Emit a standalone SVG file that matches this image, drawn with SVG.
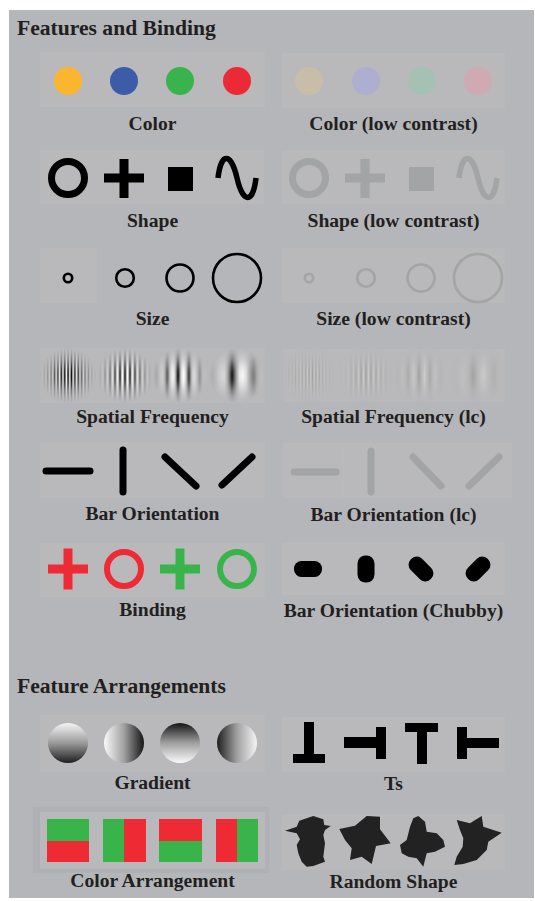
<svg xmlns="http://www.w3.org/2000/svg" xmlns:xlink="http://www.w3.org/1999/xlink" width="535" height="901" viewBox="0 0 535 901">
  <style>
    .title { font-family: "Liberation Serif", "Times New Roman", serif; font-weight: bold; font-size: 21.6px; fill: #231f20; }
    .label { font-family: "Liberation Serif", "Times New Roman", serif; font-weight: bold; font-size: 19.6px; fill: #231f20; text-anchor: middle; }
    .tile { fill: #b9b8ba; }
    .hi { color: #000; }
    .lo { color: #a3a4a6; }
    .bar { stroke: currentColor; stroke-width: 7; stroke-linecap: round; fill: none; }
    .red { fill: #ee2a34; }
    .green { fill: #38b44a; }
    .blob { fill: #222; }
  </style>
  <defs>
    <!-- shape set (drawn with currentColor so it can be reused at two contrasts) -->
    <g id="shapeSet">
      <circle cx="68" cy="178" r="16.5" fill="none" stroke="currentColor" stroke-width="7"/>
      <rect x="104" y="173.5" width="40" height="9" fill="currentColor"/>
      <rect x="119.5" y="159" width="9" height="39" fill="currentColor"/>
      <rect x="168" y="167" width="25" height="24" fill="currentColor"/>
      <path d="M218,178 C221,152 231,152 237,178 C243,204 253,204 256,178" fill="none" stroke="currentColor" stroke-width="5.5"/>
    </g>
    <g id="sizeSet" fill="none" stroke="currentColor" stroke-width="2.6">
      <circle cx="68" cy="278" r="4.2"/>
      <circle cx="125" cy="278" r="8.8"/>
      <circle cx="180" cy="278" r="13.5"/>
      <circle cx="237" cy="278" r="24"/>
    </g>
    <g id="barSet" class="bar">
      <line x1="46" y1="471" x2="90" y2="471"/>
      <line x1="123" y1="450" x2="123" y2="492"/>
      <line x1="165" y1="457" x2="196" y2="486"/>
      <line x1="222" y1="485" x2="252" y2="457"/>
    </g>

    <!-- Gaussian envelope for the Gabor patches -->
    <radialGradient id="env" cx="0.5" cy="0.5" r="0.5">
      <stop offset="0" stop-color="#fff"/>
      <stop offset="0.2" stop-color="#e0e0e0"/>
      <stop offset="0.4" stop-color="#9c9c9c"/>
      <stop offset="0.6" stop-color="#525252"/>
      <stop offset="0.8" stop-color="#222"/>
      <stop offset="1" stop-color="#000"/>
    </radialGradient>
    <mask id="m1" maskContentUnits="userSpaceOnUse"><rect x="40" y="348" width="56" height="55" fill="url(#env)"/></mask>
    <mask id="m2" maskContentUnits="userSpaceOnUse"><rect x="97" y="348" width="56" height="55" fill="url(#env)"/></mask>
    <mask id="m3" maskContentUnits="userSpaceOnUse"><rect x="152" y="348" width="56" height="55" fill="url(#env)"/></mask>
    <mask id="m4" maskContentUnits="userSpaceOnUse"><rect x="209" y="348" width="56" height="55" fill="url(#env)"/></mask>

    <!-- sinusoidal stripe gratings, high contrast -->
    <linearGradient id="g1" gradientUnits="userSpaceOnUse" x1="66.4" y1="0" x2="69.8" y2="0" spreadMethod="repeat">
      <stop offset="0" stop-color="#fff"/><stop offset="0.5" stop-color="#000"/><stop offset="1" stop-color="#fff"/>
    </linearGradient>
    <linearGradient id="g2" gradientUnits="userSpaceOnUse" x1="122.5" y1="0" x2="127.5" y2="0" spreadMethod="repeat">
      <stop offset="0" stop-color="#fff"/><stop offset="0.25" stop-color="#b0b0b0"/><stop offset="0.5" stop-color="#000"/><stop offset="0.75" stop-color="#b0b0b0"/><stop offset="1" stop-color="#fff"/>
    </linearGradient>
    <linearGradient id="g3" gradientUnits="userSpaceOnUse" x1="172.5" y1="0" x2="183.5" y2="0" spreadMethod="repeat">
      <stop offset="0" stop-color="#fff"/><stop offset="0.15" stop-color="#eee"/><stop offset="0.3" stop-color="#a0a0a0"/><stop offset="0.5" stop-color="#000"/><stop offset="0.7" stop-color="#a0a0a0"/><stop offset="0.85" stop-color="#eee"/><stop offset="1" stop-color="#fff"/>
    </linearGradient>
    <linearGradient id="g4" gradientUnits="userSpaceOnUse" x1="221" y1="0" x2="243" y2="0" spreadMethod="repeat">
      <stop offset="0" stop-color="#fff"/><stop offset="0.15" stop-color="#eee"/><stop offset="0.3" stop-color="#a0a0a0"/><stop offset="0.5" stop-color="#000"/><stop offset="0.7" stop-color="#a0a0a0"/><stop offset="0.85" stop-color="#eee"/><stop offset="1" stop-color="#fff"/>
    </linearGradient>
    <!-- low contrast gratings -->
    <linearGradient id="l1" href="#g1" xlink:href="#g1">
      <stop offset="0" stop-color="#cbcbcb"/><stop offset="0.5" stop-color="#a0a0a0"/><stop offset="1" stop-color="#cbcbcb"/>
    </linearGradient>
    <linearGradient id="l2" href="#g2" xlink:href="#g2">
      <stop offset="0" stop-color="#cbcbcb"/><stop offset="0.5" stop-color="#a0a0a0"/><stop offset="1" stop-color="#cbcbcb"/>
    </linearGradient>
    <linearGradient id="l3" href="#g3" xlink:href="#g3">
      <stop offset="0" stop-color="#cbcbcb"/><stop offset="0.3" stop-color="#b6b6b6"/><stop offset="0.5" stop-color="#a0a0a0"/><stop offset="0.7" stop-color="#b6b6b6"/><stop offset="1" stop-color="#cbcbcb"/>
    </linearGradient>
    <linearGradient id="l4" href="#g4" xlink:href="#g4">
      <stop offset="0" stop-color="#cbcbcb"/><stop offset="0.3" stop-color="#b6b6b6"/><stop offset="0.5" stop-color="#a0a0a0"/><stop offset="0.7" stop-color="#b6b6b6"/><stop offset="1" stop-color="#cbcbcb"/>
    </linearGradient>

    <!-- shaded disks -->
    <linearGradient id="topLight" x1="0" y1="0" x2="0" y2="1">
      <stop offset="0" stop-color="#f4f4f4"/><stop offset="0.5" stop-color="#9a9a9a"/><stop offset="1" stop-color="#1e1e1e"/>
    </linearGradient>
    <linearGradient id="leftLight" x1="0" y1="0" x2="1" y2="0">
      <stop offset="0" stop-color="#fafafa"/><stop offset="0.5" stop-color="#a0a0a0"/><stop offset="1" stop-color="#151515"/>
    </linearGradient>
    <linearGradient id="topDark" x1="0" y1="0" x2="0" y2="1">
      <stop offset="0" stop-color="#151515"/><stop offset="0.5" stop-color="#a0a0a0"/><stop offset="1" stop-color="#fafafa"/>
    </linearGradient>
    <linearGradient id="leftDark" x1="0" y1="0" x2="1" y2="0">
      <stop offset="0" stop-color="#1e1e1e"/><stop offset="0.5" stop-color="#a0a0a0"/><stop offset="1" stop-color="#f4f4f4"/>
    </linearGradient>
  </defs>

  <!-- page and panel -->
  <rect x="0" y="0" width="535" height="901" fill="#fff"/>
  <rect x="9" y="10" width="525" height="888" fill="#b4b6b9"/>

  <text class="title" x="17" y="35">Features and Binding</text>

  <g id="color">
    <rect class="tile" x="40" y="52" width="225" height="55"/>
    <circle cx="68" cy="81" r="14" fill="#fbb52f"/>
    <circle cx="124" cy="81" r="14" fill="#3c5ca8"/>
    <circle cx="180" cy="81" r="14" fill="#39b34e"/>
    <circle cx="237" cy="81" r="14" fill="#ec2a36"/>
    <text class="label" x="152.5" y="130">Color</text>
  </g>

  <g id="color-lc">
    <rect class="tile" x="282" y="53" width="223" height="55"/>
    <circle cx="309" cy="81" r="14" fill="#c8bea7"/>
    <circle cx="366" cy="81" r="14" fill="#adaed0"/>
    <circle cx="422" cy="81" r="14" fill="#a4c1b4"/>
    <circle cx="478" cy="81" r="14" fill="#cfaab2"/>
    <text class="label" x="393.5" y="130">Color (low contrast)</text>
  </g>

  <g id="shape">
    <rect class="tile" x="40" y="150" width="224" height="54"/>
    <use href="#shapeSet" xlink:href="#shapeSet" class="hi"/>
    <text class="label" x="152.5" y="227">Shape</text>
  </g>

  <g id="shape-lc">
    <rect class="tile" x="282" y="150" width="223" height="54"/>
    <use href="#shapeSet" xlink:href="#shapeSet" class="lo" transform="translate(241,0)"/>
    <text class="label" x="393.5" y="227">Shape (low contrast)</text>
  </g>

  <g id="size">
    <rect class="tile" x="40" y="248" width="57" height="55"/>
    <use href="#sizeSet" xlink:href="#sizeSet" class="hi"/>
    <text class="label" x="152.5" y="325">Size</text>
  </g>

  <g id="size-lc">
    <rect class="tile" x="282" y="248" width="223" height="55"/>
    <use href="#sizeSet" xlink:href="#sizeSet" class="lo" transform="translate(241,0)"/>
    <text class="label" x="393.5" y="325">Size (low contrast)</text>
  </g>

  <g id="spatial-frequency">
    <rect class="tile" x="40" y="348" width="225" height="55"/>
    <rect x="40" y="348" width="56" height="55" fill="url(#g1)" mask="url(#m1)"/>
    <rect x="97" y="348" width="56" height="55" fill="url(#g2)" mask="url(#m2)"/>
    <rect x="152" y="348" width="56" height="55" fill="url(#g3)" mask="url(#m3)"/>
    <rect x="209" y="348" width="56" height="55" fill="url(#g4)" mask="url(#m4)"/>
    <text class="label" x="152.5" y="423">Spatial Frequency</text>
  </g>

  <g id="spatial-frequency-lc">
    <rect class="tile" x="283" y="349" width="222" height="53"/>
    <g transform="translate(241,0)">
      <rect x="40" y="348" width="56" height="55" fill="url(#l1)" mask="url(#m1)"/>
      <rect x="97" y="348" width="56" height="55" fill="url(#l2)" mask="url(#m2)"/>
      <rect x="152" y="348" width="56" height="55" fill="url(#l3)" mask="url(#m3)"/>
      <rect x="209" y="348" width="56" height="55" fill="url(#l4)" mask="url(#m4)"/>
    </g>
    <text class="label" x="393.5" y="423">Spatial Frequency (lc)</text>
  </g>

  <g id="bar-orientation">
    <rect class="tile" x="40" y="442" width="225" height="56"/>
    <use href="#barSet" xlink:href="#barSet" class="hi"/>
    <text class="label" x="152.5" y="520">Bar Orientation</text>
  </g>

  <g id="bar-orientation-lc">
    <rect class="tile" x="283" y="443" width="229" height="55"/>
    <line x1="343" y1="443" x2="343" y2="498" stroke="#bbbabc" stroke-width="1"/>
    <line x1="400" y1="443" x2="400" y2="498" stroke="#bbbabc" stroke-width="1"/>
    <g class="lo">
      <line class="bar" x1="294" y1="472" x2="336" y2="472"/>
      <line class="bar" x1="371" y1="451" x2="371" y2="492"/>
      <line class="bar" x1="413" y1="457" x2="441" y2="486"/>
      <line class="bar" x1="469" y1="486" x2="499" y2="457"/>
    </g>
    <text class="label" x="393.5" y="521">Bar Orientation (lc)</text>
  </g>

  <g id="binding">
    <rect class="tile" x="40" y="543" width="225" height="54"/>
    <rect class="red" x="48" y="564.5" width="40" height="9"/>
    <rect class="red" x="63.5" y="548.5" width="9" height="41"/>
    <circle cx="124" cy="569" r="17" fill="none" stroke="#ee2a34" stroke-width="6"/>
    <rect class="green" x="160" y="564.5" width="40" height="9"/>
    <rect class="green" x="175.5" y="548.5" width="9" height="41"/>
    <circle cx="237" cy="569" r="17" fill="none" stroke="#38b44a" stroke-width="6"/>
    <text class="label" x="152.5" y="616">Binding</text>
  </g>

  <g id="bar-orientation-chubby">
    <rect class="tile" x="282" y="542" width="223" height="53"/>
    <rect x="294" y="561" width="28" height="16" rx="7.5" fill="#000"/>
    <rect x="357.5" y="555.5" width="17" height="27" rx="8" fill="#000"/>
    <rect x="407" y="561" width="28" height="16" rx="7.5" fill="#000" transform="rotate(45 421 569)"/>
    <rect x="464" y="561" width="28" height="16" rx="7.5" fill="#000" transform="rotate(-45 478 569)"/>
    <text class="label" x="393.5" y="617">Bar Orientation (Chubby)</text>
  </g>

  <text class="title" x="17" y="693">Feature Arrangements</text>

  <g id="gradient">
    <rect class="tile" x="40" y="715" width="225" height="57"/>
    <circle cx="68" cy="743" r="20" fill="url(#topLight)"/>
    <circle cx="124" cy="743" r="20" fill="url(#leftLight)"/>
    <circle cx="180" cy="743" r="20" fill="url(#topDark)"/>
    <circle cx="237" cy="743" r="20" fill="url(#leftDark)"/>
    <text class="label" x="152.5" y="789">Gradient</text>
  </g>

  <g id="ts" fill="#000">
    <rect class="tile" x="282" y="717" width="223" height="55"/>
    <rect x="304" y="722" width="10" height="33"/>
    <rect x="293" y="754" width="32" height="9"/>
    <rect x="344" y="737" width="33" height="11"/>
    <rect x="376" y="727" width="10" height="32"/>
    <rect x="405" y="723" width="33" height="9"/>
    <rect x="417" y="723" width="10" height="41"/>
    <rect x="457" y="727" width="10" height="32"/>
    <rect x="466" y="738" width="33" height="10"/>
    <text class="label" x="393.5" y="790">Ts</text>
  </g>

  <g id="color-arrangement">
    <rect x="33" y="807" width="236" height="66" fill="#afb1b4"/>
    <rect class="tile" x="40" y="812" width="225" height="57"/>
    <rect class="green" x="47" y="819" width="42" height="22"/>
    <rect class="red" x="47" y="841" width="42" height="21"/>
    <rect class="green" x="103" y="819" width="21" height="43"/>
    <rect class="red" x="124" y="819" width="22" height="43"/>
    <rect class="red" x="159" y="819" width="43" height="22"/>
    <rect class="green" x="159" y="841" width="43" height="21"/>
    <rect class="red" x="216" y="819" width="21" height="43"/>
    <rect class="green" x="237" y="819" width="21" height="43"/>
    <text class="label" x="152.5" y="887">Color Arrangement</text>
  </g>

  <g id="random-shape">
    <rect class="tile" x="282" y="814" width="223" height="56"/>
    <polygon class="blob" points="285,830.7 296.7,826.7 299.3,820.7 313.3,816 323.3,819.3 324.3,825 330.7,826 325,830 323.3,835 325,843.3 323.3,856.7 325,861.7 313.3,866 306.7,866.7 301.7,861.7 298.3,853.3 296.7,845 300,839.3 296.7,833.3"/>
    <polygon class="blob" points="339.3,829 355,825.7 366.7,816 380,816.7 380,829.3 390.7,843.3 376,846 371.7,864 361.7,856.7 350,860 351.7,848.3 345,840"/>
    <polygon class="blob" points="413.3,818.3 418.3,816 425,821.7 426.7,831.7 436.7,833.3 443.3,840 445,846.7 435,851.7 426.7,853.3 423.3,866.7 416.7,858.3 408.3,856.7 401.7,853.3 400,845 406.7,840 410,826.7"/>
    <polygon class="blob" points="456.7,820 470,823.3 481.7,816 483.3,826.7 501.7,832.7 488.3,841.7 486.7,850 476.7,860 463.3,864 454.3,865 456.7,856.7 462.7,846.7 463.3,838.3 460,830"/>
    <text class="label" x="393.5" y="888">Random Shape</text>
  </g>
</svg>
